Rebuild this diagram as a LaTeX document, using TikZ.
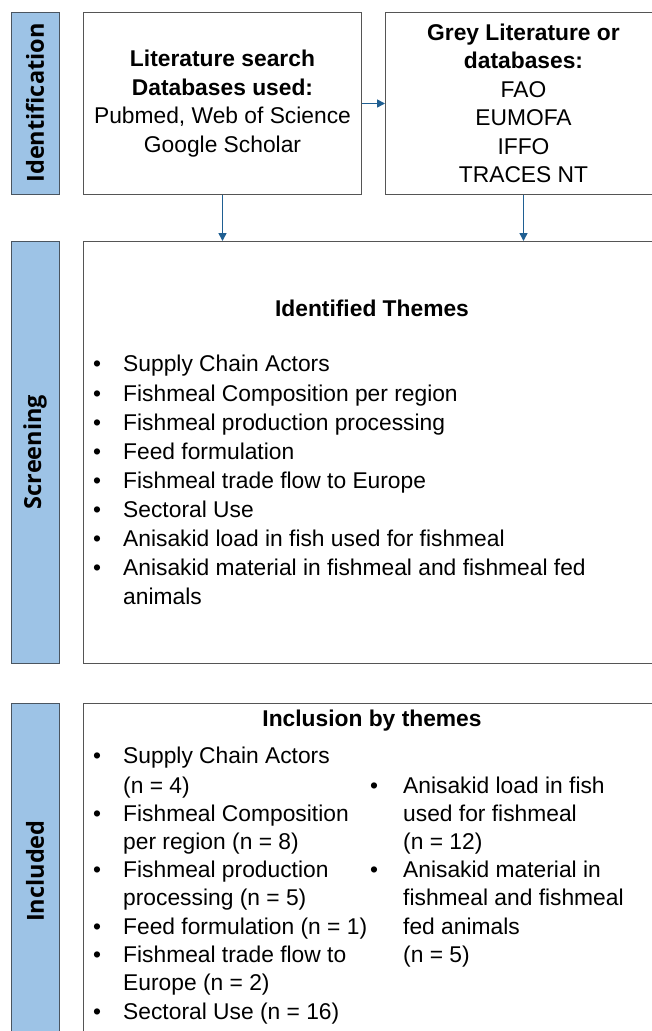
\documentclass[tikz,border=0pt]{standalone}
\usepackage{fontspec}
\setmainfont{Liberation Sans}
\newfontfamily\labfont{Open Sans}
\usetikzlibrary{arrows.meta}
\definecolor{labblue}{HTML}{9DC3E6}
\definecolor{labedge}{HTML}{4A5560}
\definecolor{arrblue}{HTML}{1F5F92}
\definecolor{boxgray}{HTML}{555555}
\begin{document}
\begin{tikzpicture}[x=1pt,y=-1pt,
  lab/.style={draw=labedge, fill=labblue, line width=1pt, rotate=90, minimum height=48pt,
    inner sep=0pt, font=\labfont\bfseries\fontsize{23.5}{27}\selectfont},
  box/.style={draw=boxgray, line width=1pt, inner sep=0pt, anchor=north west, align=center,
    font=\fontsize{22.8}{28.5}\selectfont},
  arr/.style={-{Triangle[length=8pt,width=8pt]}, draw=arrblue, line width=1.5pt},
  tx/.style={font=\fontsize{22.8}{29}\selectfont, inner sep=0pt, anchor=west, text height=16pt, text depth=4pt},
  bul/.style={font=\fontsize{22.8}{29}\selectfont, inner sep=0pt, anchor=center, text height=16pt, text depth=4pt},
  hd/.style={font=\bfseries\fontsize{22.8}{29}\selectfont, inner sep=0pt, anchor=center, text height=16pt, text depth=4pt}]
\useasboundingbox (0,0) rectangle (651,1031);

% side labels
\node[lab, minimum width=182pt] (idl) at (35,103) {Identification};
\node[lab, minimum width=422pt] (scl) at (35,452) {Screening};
\node[lab, minimum width=336pt] (inl) at (35,871) {Included};

% top boxes
\node[box, minimum width=278pt, minimum height=182pt] (lit) at (83,12)
  {\textbf{Literature search}\\\textbf{Databases used:}\\Pubmed, Web of Science\\Google Scholar};
\node[box, minimum width=276pt, minimum height=182pt] (grey) at (385,12)
  {\textbf{Grey Literature or}\\\textbf{databases:}\\FAO\\EUMOFA\\IFFO\\TRACES NT};

% screening and included boxes
\node[box, minimum width=578pt, minimum height=422pt] (scr) at (83,241) {};
\node[box, minimum width=578pt, minimum height=345pt] (inc) at (83,703) {};

% connectors
\draw[arr] (lit.east) -- (grey.west);
\draw[arr] (lit.south) -- (lit.south |- scr.north);
\draw[arr] (grey.south) -- (grey.south |- scr.north);

% screening content
\node[hd] (sh) at (372,310) {Identified Themes};
\foreach \y/\t [count=\i] in {365/Supply Chain Actors, 395/Fishmeal Composition per region,
  424/Fishmeal production processing, 453/Feed formulation, 482/Fishmeal trade flow to Europe,
  511/Sectoral Use, 540/Anisakid load in fish used for fishmeal,
  569/Anisakid material in fishmeal and fishmeal fed}{
  \node[bul] (sb\i) at (97,\y) {•};
  \node[tx] (st\i) at (123,\y) {\t};
}
\node[tx] (st9) at (123,598) {animals};

% included content
\node[hd] (ih) at (372,720) {Inclusion by themes};
\foreach \y [count=\i] in {757,815,871,928,956,1013}{
  \node[bul] (ib\i) at (97,\y) {•};
}
\foreach \y/\t [count=\i] in {757/Supply Chain Actors, 787/(n = 4), 815/Fishmeal Composition,
  843/per region (n = 8), 871/Fishmeal production, 899/processing (n = 5),
  928/Feed formulation (n = 1), 956/Fishmeal trade flow to, 984/Europe (n = 2),
  1013/Sectoral Use (n = 16)}{
  \node[tx] (ia\i) at (123,\y) {\t};
}
\node[bul] (jb1) at (374,787) {•};
\node[bul] (jb2) at (374,871) {•};
\foreach \y/\t [count=\i] in {787/Anisakid load in fish, 815/used for fishmeal, 843/(n = 12),
  871/Anisakid material in, 899/fishmeal and fishmeal, 928/fed animals, 956/(n = 5)}{
  \node[tx] (ja\i) at (403,\y) {\t};
}
\end{tikzpicture}
\end{document}
